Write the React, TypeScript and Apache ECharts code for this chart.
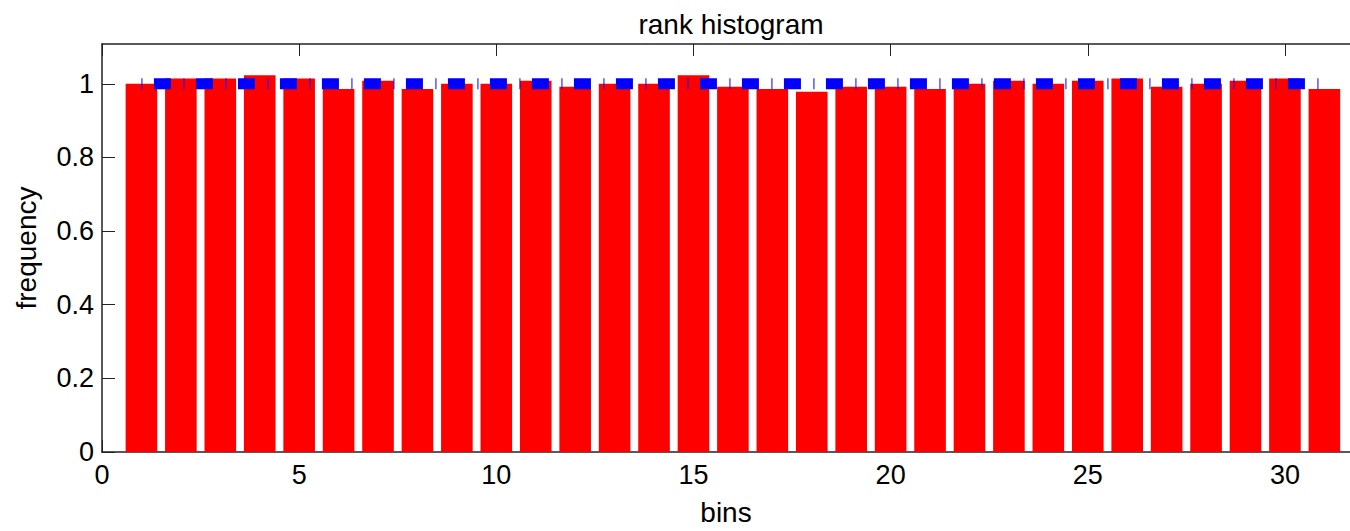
import React, { useEffect, useRef } from "react";
import * as echarts from "echarts";

const bins = [1, 2, 3, 4, 5, 6, 7, 8, 9, 10, 11, 12, 13, 14, 15, 16, 17, 18, 19, 20, 21, 22, 23, 24, 25, 26, 27, 28, 29, 30, 31];
const frequency = [1.0, 1.014, 1.014, 1.023, 1.014, 0.986, 1.008, 0.986, 1.0, 1.0, 1.008, 0.992, 1.0, 1.0, 1.023, 0.992, 0.986, 0.978, 0.992, 0.992, 0.986, 1.0, 1.008, 1.0, 1.008, 1.014, 0.992, 1.0, 1.008, 1.014, 0.986];
const expectedX = [1, 31];
const expectedY = [1, 1];
const xTicks = [0, 5, 10, 15, 20, 25, 30];
const yTicks = [0, 0.2, 0.4, 0.6, 0.8, 1];

const FONT = "'Liberation Sans', Arial, Helvetica, sans-serif";

export default function App() {
  const ref = useRef<HTMLDivElement>(null);
  useEffect(() => {
    if (!ref.current) return;
    const chart = echarts.init(ref.current, null, { renderer: "svg" });
    const axisColor = "#222";
    const xMax = 31.65;
    chart.setOption({
      animation: false,
      backgroundColor: "#ffffff",
      textStyle: { fontFamily: FONT },
      title: {
        text: "rank histogram",
        left: 726,
        textAlign: "center",
        top: 5,
        textStyle: { fontFamily: FONT, fontSize: 28, fontWeight: "normal", color: "#000" },
      },
      grid: { left: 102, top: 44, width: 1249, height: 410, containLabel: false },
      xAxis: [
        {
          type: "value",
          position: "bottom",
          min: 0,
          max: xMax,
          interval: 5,
          name: "bins",
          nameLocation: "middle",
          nameGap: 46,
          nameTextStyle: { fontFamily: FONT, fontSize: 28, color: "#000" },
          axisLine: { show: true, lineStyle: { color: axisColor, width: 1.5 } },
          axisTick: { show: true, inside: true, length: 12, lineStyle: { color: axisColor } },
          axisLabel: {
            fontFamily: FONT,
            fontSize: 27,
            color: "#000",
            margin: 9,
            showMaxLabel: false,
            formatter: (v: number) => (xTicks.indexOf(v) >= 0 ? String(v) : ""),
          },
          splitLine: { show: false },
        },
        {
          type: "value",
          position: "top",
          min: 0,
          max: xMax,
          interval: 5,
          axisLine: { show: true, lineStyle: { color: axisColor, width: 1.5 } },
          axisTick: { show: true, inside: true, length: 12, lineStyle: { color: axisColor } },
          axisLabel: { show: false },
          splitLine: { show: false },
        },
      ],
      yAxis: {
        type: "value",
        min: 0,
        max: 1.108,
        interval: 0.2,
        name: "frequency",
        nameLocation: "middle",
        nameGap: 62,
        nameRotate: 90,
        nameTextStyle: { fontFamily: FONT, fontSize: 28, color: "#000" },
        axisLine: { show: true, lineStyle: { color: axisColor, width: 1.5 } },
        axisTick: { show: true, inside: true, length: 13, lineStyle: { color: axisColor } },
        axisLabel: {
          fontFamily: FONT,
          fontSize: 27,
          color: "#000",
          margin: 8,
          showMaxLabel: false,
          formatter: (v: number) => {
            const r = Math.round(v * 10) / 10;
            return yTicks.indexOf(r) >= 0 ? String(r) : "";
          },
        },
        splitLine: { show: false },
      },
      series: [
        {
          type: "bar",
          data: bins.map((b, i) => [b, frequency[i]]),
          barWidth: 31.6,
          itemStyle: { color: "#ff0000" },
          z: 2,
        },
        {
          type: "line",
          data: expectedX.map((x, i) => [x, expectedY[i]]),
          symbol: "none",
          lineStyle: { color: "#0000ff", width: 11, type: [1, 11.5, 17, 12.5], cap: "butt" },
          z: 3,
        },
      ],
    });
    return () => chart.dispose();
  }, []);
  return (
    <div
      ref={ref}
      style={{ position: "fixed", left: 0, top: 0, width: 1350, height: 531, background: "#fff" }}
    />
  );
}
